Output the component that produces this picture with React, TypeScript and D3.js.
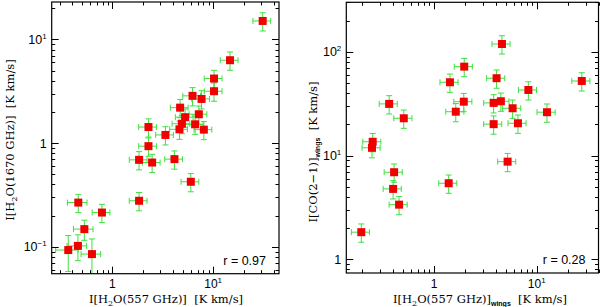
import { useEffect, useRef } from "react";
import * as d3 from "d3";

// left panel: I[H2O(557 GHz)] vs I[H2O(1670 GHz)]
const leftX = [31.0, 14.7, 10.2, 10.2, 6.24, 7.67, 4.70, 7.21, 5.27, 4.89, 6.62, 4.63, 8.08, 2.28, 3.36, 2.28, 1.84, 2.48, 4.13, 6.00, 1.84, 0.459, 0.788, 0.527, 0.365, 0.455, 0.627];
const leftY = [15.1, 6.31, 4.20, 3.17, 2.86, 2.67, 2.20, 1.90, 1.78, 1.54, 1.52, 1.36, 1.35, 1.43, 1.20, 0.935, 0.690, 0.650, 0.701, 0.424, 0.278, 0.267, 0.214, 0.148, 0.093, 0.102, 0.085];
const leftXErr = [0.2, 0.2, 0.2, 0.2, 0.2, 0.2, 0.2, 0.2, 0.2, 0.2, 0.2, 0.2, 0.2, 0.2, 0.2, 0.2, 0.2, 0.2, 0.2, 0.2, 0.2, 0.22, 0.2, 0.22, 0.25, 0.22, 0.22];
const leftYErr = [0.2, 0.2, 0.2, 0.2, 0.2, 0.2, 0.2, 0.2, 0.2, 0.2, 0.2, 0.2, 0.2, 0.2, 0.2, 0.2, 0.2, 0.2, 0.2, 0.2, 0.2, 0.2, 0.2, 0.22, 0.38, 0.28, 0.4];

// right panel: I[H2O(557 GHz)]wings vs I[CO(2-1)]wings
const rightX = [4.59, 1.97, 4.07, 1.43, 27.5, 8.30, 0.366, 1.95, 3.81, 4.48, 5.83, 1.63, 12.6, 0.508, 3.81, 6.57, 0.253, 0.249, 5.21, 0.409, 0.400, 0.457, 1.39, 0.196];
const rightY = [119, 72.0, 55.7, 50.9, 52.4, 42.9, 31.5, 33.1, 32.2, 33.4, 28.6, 26.5, 26.2, 22.9, 20.1, 20.5, 13.6, 11.9, 8.75, 6.92, 4.78, 3.37, 5.42, 1.83];
const rightErr = 0.2;

const leftXTicks = [1, 10];
const leftYTicks = [0.1, 1, 10];
const rightXTicks = [1, 10];
const rightYTicks = [1, 10, 100];

const serif = "'DejaVu Serif', serif";
const sans = "'Liberation Sans', Arial, sans-serif";

function minorTicks(domain: number[]) {
  const out: number[] = [];
  for (let e = -3; e <= 3; e++) {
    for (let m = 1; m < 10; m++) {
      const v = m * Math.pow(10, e);
      if (v >= domain[0] && v <= domain[1]) out.push(v);
    }
  }
  return out;
}

function panel(svg: any, cfg: any) {
  const { x, y, xs, ys, xe, ye, id } = cfg;
  const [x0, x1] = x.range();
  const [y0, y1] = y.range();
  const g = svg.append("g");

  g.append("clipPath").attr("id", id).append("rect")
    .attr("x", x0).attr("y", y1).attr("width", x1 - x0).attr("height", y0 - y1);

  const marks = g.append("g").attr("clip-path", `url(#${id})`);
  const green = "#3de03d";
  const cap = 3;
  xs.forEach((xv: number, i: number) => {
    const yv = ys[i];
    const ex = xe[i], ey = ye[i];
    const px = x(xv), py = y(yv);
    const xl = x(xv * (1 - ex)), xr = x(xv * (1 + ex));
    const yt = y(yv * (1 + ey)), yb = y(Math.max(yv * (1 - ey), 1e-6));
    const eg = marks.append("g").attr("stroke", green).attr("stroke-width", 1);
    eg.append("line").attr("x1", xl).attr("x2", xr).attr("y1", py).attr("y2", py);
    eg.append("line").attr("x1", px).attr("x2", px).attr("y1", yt).attr("y2", yb);
    eg.append("line").attr("x1", xl).attr("x2", xl).attr("y1", py - cap).attr("y2", py + cap);
    eg.append("line").attr("x1", xr).attr("x2", xr).attr("y1", py - cap).attr("y2", py + cap);
    eg.append("line").attr("x1", px - cap).attr("x2", px + cap).attr("y1", yt).attr("y2", yt);
    eg.append("line").attr("x1", px - cap).attr("x2", px + cap).attr("y1", yb).attr("y2", yb);
  });
  xs.forEach((xv: number, i: number) => {
    marks.append("rect")
      .attr("x", x(xv) - 4).attr("y", y(ys[i]) - 4)
      .attr("width", 8).attr("height", 8)
      .attr("fill", "#f20000");
  });

  // ticks on all four sides
  const tk = g.append("g").attr("stroke", "#000").attr("stroke-width", 1);
  const major = 7, minor = 3.5;
  const xMaj = cfg.xTicks, yMaj = cfg.yTicks;
  minorTicks(x.domain()).forEach((v) => {
    const len = xMaj.includes(v) ? major : minor;
    const px = Math.round(x(v)) + 0.5;
    tk.append("line").attr("x1", px).attr("x2", px).attr("y1", y0).attr("y2", y0 - len);
    tk.append("line").attr("x1", px).attr("x2", px).attr("y1", y1).attr("y2", y1 + len);
  });
  minorTicks(y.domain()).forEach((v) => {
    const len = yMaj.includes(v) ? major : minor;
    const py = Math.round(y(v)) + 0.5;
    tk.append("line").attr("x1", x0).attr("x2", x0 + len).attr("y1", py).attr("y2", py);
    tk.append("line").attr("x1", x1).attr("x2", x1 - len).attr("y1", py).attr("y2", py);
  });

  g.append("rect").attr("x", x0).attr("y", y1).attr("width", x1 - x0).attr("height", y0 - y1)
    .attr("fill", "none").attr("stroke", "#000").attr("stroke-width", 1.2);

  const expLabel = (t: any, v: number) => {
    const e = Math.round(Math.log10(v));
    if (e === 0) { t.text("1"); return; }
    t.append("tspan").text("10");
    t.append("tspan").attr("dy", -5).attr("font-size", 8).text(e < 0 ? "\u2212" + (-e) : String(e));
  };

  xMaj.forEach((v: number) => {
    const t = g.append("text").attr("x", x(v)).attr("y", 288)
      .attr("text-anchor", "middle").attr("font-family", sans).attr("font-size", 12);
    expLabel(t, v);
  });
  yMaj.forEach((v: number) => {
    const t = g.append("text").attr("x", x0 - 5).attr("y", y(v) + 4.5)
      .attr("text-anchor", "end").attr("font-family", sans).attr("font-size", 12.5);
    expLabel(t, v);
  });

  g.append("text").attr("x", x1 - 13).attr("y", y0 - 9)
    .attr("text-anchor", "end").attr("font-family", sans).attr("font-size", 12.5)
    .text(cfg.r);
  return g;
}

export default function App() {
  const svgRef = useRef<SVGSVGElement>(null);
  const width = 600;
  const height = 307;

  useEffect(() => {
    const svg = d3.select(svgRef.current);
    svg.selectAll("*").remove();

    const xL = d3.scaleLog().domain([0.25, 45]).range([51.7, 279]);
    const yL = d3.scaleLog().domain([0.055, 23]).range([273.7, 2]);
    panel(svg, { x: xL, y: yL, xs: leftX, ys: leftY, xe: leftXErr, ye: leftYErr, id: "clipL", xTicks: leftXTicks, yTicks: leftYTicks, r: "r = 0.97" });

    const xR = d3.scaleLog().domain([0.14, 40]).range([346.3, 598.5]);
    const yR = d3.scaleLog().domain([0.74, 300]).range([273, 2.3]);
    panel(svg, { x: xR, y: yR, xs: rightX, ys: rightY, xe: rightX.map(() => rightErr), ye: rightY.map(() => rightErr), id: "clipR", xTicks: rightXTicks, yTicks: rightYTicks, r: "r = 0.28" });

    const fs = 11.5;
    // x titles
    const t1 = svg.append("text").attr("x", 166).attr("y", 303).attr("text-anchor", "middle")
      .attr("font-family", serif).attr("font-size", fs).attr("xml:space", "preserve");
    t1.append("tspan").text("I[H");
    t1.append("tspan").attr("dy", 3).attr("font-size", 8).text("2");
    t1.append("tspan").attr("dy", -3).text("O(557 GHz)]  [K km/s]");

    const t2 = svg.append("text").attr("x", 480).attr("y", 303).attr("text-anchor", "middle")
      .attr("font-family", serif).attr("font-size", fs).attr("xml:space", "preserve");
    t2.append("tspan").text("I[H");
    t2.append("tspan").attr("dy", 3).attr("font-size", 8).text("2");
    t2.append("tspan").attr("dy", -3).text("O(557 GHz)]");
    t2.append("tspan").attr("dy", 3).attr("font-size", 7).attr("font-weight", "bold").attr("font-family", sans).text("wings");
    t2.append("tspan").attr("dy", -3).text("  [K km/s]");

    // y titles
    const t3 = svg.append("text").attr("transform", "translate(14,140) rotate(-90)").attr("text-anchor", "middle")
      .attr("font-family", serif).attr("font-size", fs).attr("xml:space", "preserve");
    t3.append("tspan").text("I[H");
    t3.append("tspan").attr("dy", 3).attr("font-size", 8).text("2");
    t3.append("tspan").attr("dy", -3).text("O(1670 GHz)]  [K km/s]");

    const t4 = svg.append("text").attr("transform", "translate(317,152) rotate(-90)").attr("text-anchor", "middle")
      .attr("font-family", serif).attr("font-size", fs).attr("xml:space", "preserve");
    t4.append("tspan").text("I[CO(2\u22121)]");
    t4.append("tspan").attr("dy", 3).attr("font-size", 7).attr("font-weight", "bold").attr("font-family", sans).text("wings");
    t4.append("tspan").attr("dy", -3).text("  [K km/s]");
  }, []);

  return (
    <div style={{ position: "absolute", left: 0, top: 0 }}>
      <svg width={width} height={height} viewBox={`0 0 ${width} ${height}`} ref={svgRef} style={{ display: "block", background: "#fff" }}></svg>
    </div>
  );
}
